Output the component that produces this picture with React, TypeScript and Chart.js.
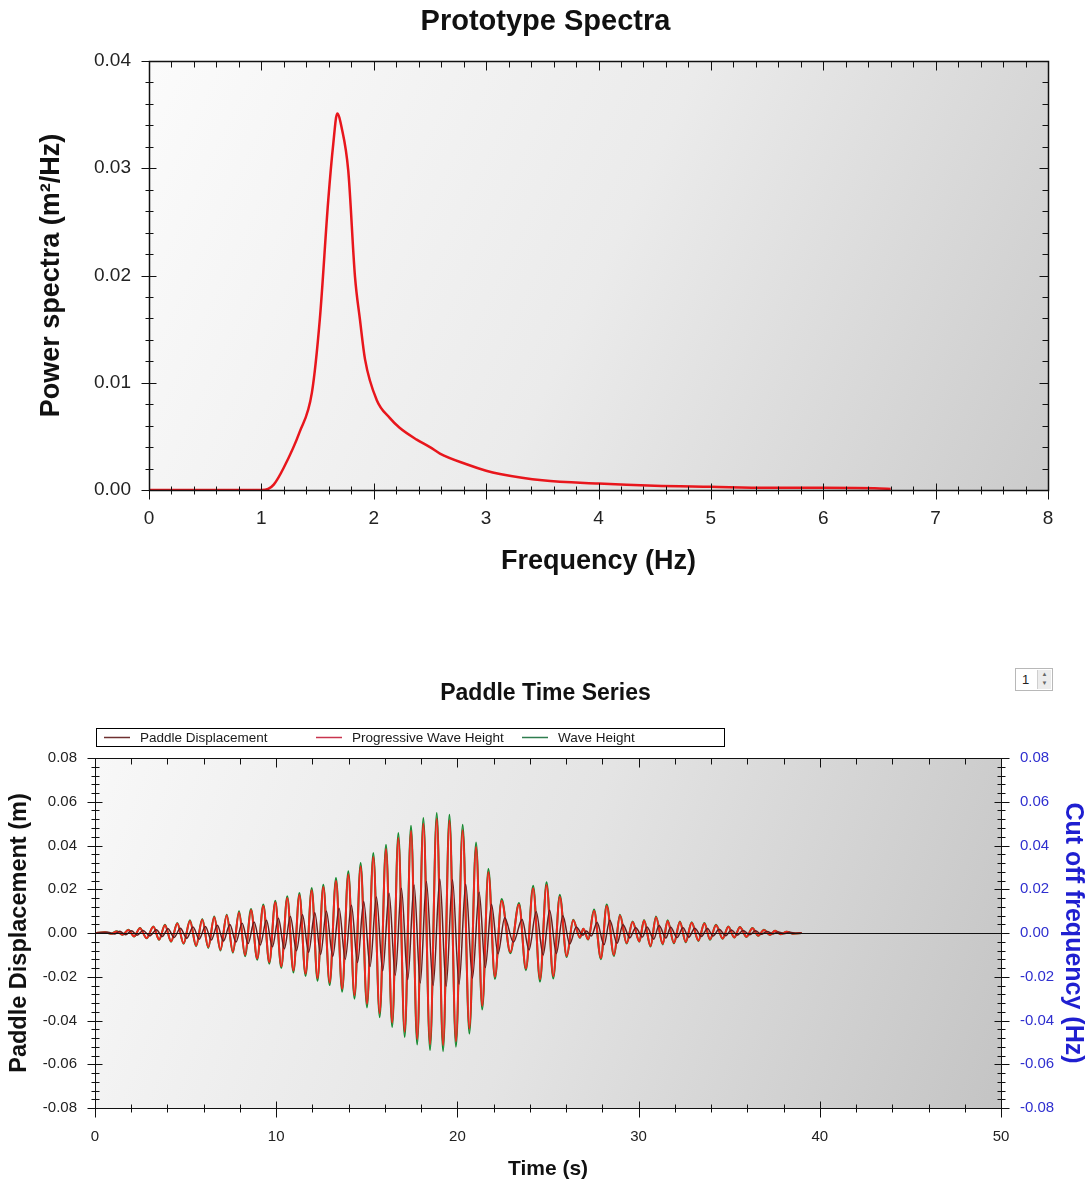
import React, { useEffect, useRef } from 'react';
import { Chart, registerables } from 'chart.js';

Chart.register(...registerables);

const FONT = '"Liberation Sans", Arial, Helvetica, sans-serif';

// ---------------- Prototype spectra ----------------
const specFreq = [0, 0.5, 1.0, 1.06, 1.11, 1.2, 1.34, 1.45, 1.52, 1.595, 1.64, 1.675, 1.714, 1.773, 1.833, 1.877, 1.922, 2.026, 2.144, 2.23, 2.382, 2.5, 2.589, 2.826, 3.0, 3.123, 3.5, 4.0, 4.5, 5.0, 5.5, 6.0, 6.5, 6.6];
const specPower = [0, 0, 0, 0.0001, 0.0005, 0.0021, 0.0054, 0.0091, 0.0159, 0.027, 0.0323, 0.0351, 0.0338, 0.0298, 0.0199, 0.0159, 0.0122, 0.0084, 0.0067, 0.0058, 0.0047, 0.0040, 0.0034, 0.0024, 0.0018, 0.0015, 0.0009, 0.0006, 0.0004, 0.0003, 0.0002, 0.0002, 0.00015, 0.0001];

// ---------------- Paddle time series ----------------
const waveTime = [
  0.00, 0.55, 0.90, 1.20, 1.52, 1.84, 2.16, 2.48, 2.85, 3.22,
  3.54, 3.86, 4.20, 4.54, 4.89, 5.24, 5.58, 5.92, 6.25, 6.58,
  6.92, 7.27, 7.61, 7.95, 8.28, 8.61, 8.95, 9.29, 9.62, 9.95,
  10.28, 10.61, 10.95, 11.28, 11.62, 11.96, 12.28, 12.60, 12.95, 13.30,
  13.64, 13.98, 14.32, 14.66, 15.01, 15.36, 15.71, 16.06, 16.40, 16.74,
  17.09, 17.44, 17.78, 18.12, 18.49, 18.86, 19.21, 19.56, 19.92, 20.29,
  20.66, 21.03, 21.37, 21.71, 22.07, 22.44, 22.92, 23.40, 23.78, 24.18,
  24.56, 24.92, 25.29, 25.65, 26.03, 26.39, 26.76, 26.95, 27.22, 27.54,
  27.92, 28.24, 28.64, 28.97, 29.34, 29.67, 30.04, 30.30, 30.66, 30.96,
  31.33, 31.60, 31.95, 32.28, 32.60, 32.93, 33.30, 33.63, 33.94, 34.27,
  34.64, 34.95, 35.28, 35.59, 35.96, 36.28, 36.60, 36.92, 37.25, 37.53,
  37.85, 38.17, 38.50, 39.00,
];
const waveHeight = [
  0, 0.0003, -0.0003, 0.0008, -0.0008, 0.0015, -0.0016, 0.0023, -0.0024, 0.0030,
  -0.0031, 0.0038, -0.0040, 0.0046, -0.0049, 0.0058, -0.0060, 0.0064, -0.0068, 0.0076,
  -0.0080, 0.0084, -0.0090, 0.0099, -0.0106, 0.0110, -0.0122, 0.0130, -0.0140, 0.0148,
  -0.0160, 0.0168, -0.0180, 0.0183, -0.0196, 0.0206, -0.0218, 0.0221, -0.0238, 0.0251,
  -0.0268, 0.0282, -0.0300, 0.0320, -0.0340, 0.0366, -0.0385, 0.0404, -0.0430, 0.0457,
  -0.0475, 0.0490, -0.0510, 0.0526, -0.0535, 0.0549, -0.0540, 0.0541, -0.0520, 0.0495,
  -0.0460, 0.0414, -0.0350, 0.0293, -0.0210, 0.0155, -0.0092, 0.0137, -0.0170, 0.0216,
  -0.0222, 0.0232, -0.0208, 0.0175, -0.0110, 0.0061, -0.0022, 0.0020, -0.0030, 0.0107,
  -0.0120, 0.0130, -0.0105, 0.0084, -0.0048, 0.0053, -0.0040, 0.0060, -0.0062, 0.0076,
  -0.0052, 0.0058, -0.0047, 0.0053, -0.0042, 0.0049, -0.0036, 0.0046, -0.0031, 0.0038,
  -0.0026, 0.0030, -0.0021, 0.0027, -0.0018, 0.0023, -0.0013, 0.0015, -0.0009, 0.0010,
  -0.0006, 0.0006, -0.0003, 0,
];
const progWaveHeight = [
  0, 0.0003, -0.0003, 0.0007, -0.0008, 0.0014, -0.0015, 0.0022, -0.0023, 0.0029,
  -0.0030, 0.0036, -0.0038, 0.0044, -0.0047, 0.0055, -0.0057, 0.0061, -0.0065, 0.0072,
  -0.0076, 0.0080, -0.0086, 0.0094, -0.0101, 0.0105, -0.0116, 0.0124, -0.0133, 0.0141,
  -0.0152, 0.0160, -0.0171, 0.0174, -0.0186, 0.0196, -0.0207, 0.0210, -0.0226, 0.0238,
  -0.0255, 0.0268, -0.0285, 0.0304, -0.0323, 0.0348, -0.0366, 0.0384, -0.0409, 0.0434,
  -0.0451, 0.0466, -0.0485, 0.0500, -0.0508, 0.0522, -0.0513, 0.0514, -0.0494, 0.0470,
  -0.0437, 0.0393, -0.0333, 0.0278, -0.0200, 0.0147, -0.0087, 0.0130, -0.0162, 0.0205,
  -0.0211, 0.0220, -0.0198, 0.0166, -0.0105, 0.0058, -0.0021, 0.0019, -0.0029, 0.0102,
  -0.0114, 0.0124, -0.0100, 0.0080, -0.0046, 0.0050, -0.0038, 0.0057, -0.0059, 0.0072,
  -0.0049, 0.0055, -0.0045, 0.0050, -0.0040, 0.0047, -0.0034, 0.0044, -0.0029, 0.0036,
  -0.0025, 0.0029, -0.0020, 0.0026, -0.0017, 0.0022, -0.0012, 0.0014, -0.0009, 0.0010,
  -0.0006, 0.0006, -0.0003, 0,
];
const paddleTime = [
  0.00, 0.72, 1.07, 1.37, 1.69, 2.01, 2.33, 2.65, 3.02, 3.39,
  3.71, 4.03, 4.37, 4.71, 5.06, 5.41, 5.75, 6.09, 6.42, 6.75,
  7.09, 7.44, 7.78, 8.12, 8.45, 8.78, 9.12, 9.46, 9.79, 10.12,
  10.45, 10.78, 11.12, 11.45, 11.79, 12.13, 12.45, 12.77, 13.12, 13.47,
  13.81, 14.15, 14.49, 14.83, 15.18, 15.53, 15.88, 16.23, 16.57, 16.91,
  17.26, 17.61, 17.95, 18.29, 18.66, 19.03, 19.38, 19.73, 20.09, 20.46,
  20.83, 21.20, 21.54, 21.88, 22.24, 22.61, 23.09, 23.57, 23.95, 24.35,
  24.73, 25.09, 25.46, 25.82, 26.20, 26.56, 26.93, 27.12, 27.39, 27.71,
  28.09, 28.41, 28.81, 29.14, 29.51, 29.84, 30.21, 30.47, 30.83, 31.13,
  31.50, 31.77, 32.12, 32.45, 32.77, 33.10, 33.47, 33.80, 34.11, 34.44,
  34.81, 35.12, 35.45, 35.76, 36.13, 36.45, 36.77, 37.09, 37.42, 37.70,
  38.02, 38.34, 38.67, 39.00,
];
const paddleDisp = [
  0, 0.0004, -0.0005, 0.0008, -0.0008, 0.0010, -0.0010, 0.0012, -0.0013, 0.0015,
  -0.0016, 0.0019, -0.0020, 0.0022, -0.0024, 0.0027, -0.0028, 0.0030, -0.0032, 0.0035,
  -0.0037, 0.0039, -0.0041, 0.0045, -0.0048, 0.0050, -0.0055, 0.0058, -0.0063, 0.0067,
  -0.0072, 0.0076, -0.0081, 0.0083, -0.0088, 0.0093, -0.0098, 0.0100, -0.0107, 0.0113,
  -0.0120, 0.0127, -0.0135, 0.0144, -0.0153, 0.0165, -0.0173, 0.0182, -0.0193, 0.0205,
  -0.0213, 0.0220, -0.0229, 0.0236, -0.0240, 0.0247, -0.0243, 0.0243, -0.0234, 0.0223,
  -0.0207, 0.0186, -0.0158, 0.0132, -0.0095, 0.0070, -0.0042, 0.0062, -0.0077, 0.0097,
  -0.0100, 0.0104, -0.0094, 0.0079, -0.0050, 0.0028, -0.0010, 0.0009, -0.0014, 0.0048,
  -0.0054, 0.0058, -0.0047, 0.0038, -0.0022, 0.0024, -0.0018, 0.0027, -0.0028, 0.0034,
  -0.0023, 0.0026, -0.0021, 0.0024, -0.0019, 0.0022, -0.0016, 0.0021, -0.0014, 0.0017,
  -0.0012, 0.0014, -0.0010, 0.0012, -0.0008, 0.0010, -0.0006, 0.0007, -0.0004, 0.0005,
  -0.0003, 0.0003, -0.0001, 0,
];

const seriesLabels = ['Paddle Displacement', 'Progressive Wave Height', 'Wave Height'];
const seriesColors = ['#6a1c1c', '#f2251d', '#12882c'];
const legendColors = ['#6e3030', '#c8344e', '#2f7d4f'];

const fmt2 = (v: any) => (Math.abs(Number(v)) < 1e-9 ? 0 : Number(v)).toFixed(2);

function seg(ctx: CanvasRenderingContext2D, x1: number, y1: number, x2: number, y2: number) {
  ctx.beginPath();
  ctx.moveTo(x1, y1);
  ctx.lineTo(x2, y2);
  ctx.stroke();
}

const framePlugin = {
  id: 'frame',
  beforeDraw(chart: any, _a: any, o: any) {
    const { ctx, chartArea: a } = chart;
    ctx.save();
    const g = ctx.createLinearGradient(a.left, a.top, a.right, a.bottom);
    o.bg.forEach((c: string, i: number) => g.addColorStop(i / (o.bg.length - 1), c));
    ctx.fillStyle = g;
    ctx.fillRect(a.left, a.top, a.right - a.left, a.bottom - a.top);
    ctx.restore();
  },
  afterDatasetsDraw(chart: any, _a: any, o: any) {
    const { ctx, chartArea: a, scales } = chart;
    const xs = scales.x;
    const ys = scales.y;
    const L = Math.round(a.left) + 0.5;
    const R = Math.round(a.right) + 0.5;
    const T = Math.round(a.top) + 0.5;
    const B = Math.round(a.bottom) + 0.5;
    ctx.save();
    ctx.strokeStyle = '#111';
    if (o.zeroLine) {
      ctx.lineWidth = 1;
      const y0 = Math.round(ys.getPixelForValue(0)) + 0.5;
      seg(ctx, L, y0, R, y0);
    }
    ctx.lineWidth = o.frameWidth;
    ctx.strokeRect(L, T, R - L, B - T);
    ctx.lineWidth = 1;
    const nx = Math.round((xs.max - xs.min) / o.xMinor);
    for (let i = 0; i <= nx; i++) {
      const v = xs.min + i * o.xMinor;
      const q = v / o.xMajor;
      const major = Math.abs(q - Math.round(q)) < 1e-6;
      const px = Math.round(xs.getPixelForValue(v)) + 0.5;
      seg(ctx, px, B - (major ? 7 : 4), px, B + (major ? 9 : 4));
      seg(ctx, px, T, px, T + (major ? 9 : 6));
    }
    const ny = Math.round((ys.max - ys.min) / o.yMinor);
    for (let i = 0; i <= ny; i++) {
      const v = ys.min + i * o.yMinor;
      const q = v / o.yMajor;
      const major = Math.abs(q - Math.round(q)) < 1e-6;
      const py = Math.round(ys.getPixelForValue(v)) + 0.5;
      seg(ctx, L - (major ? 8 : 4), py, L + (major ? 7 : 4), py);
      if (o.rightAxis) {
        seg(ctx, R - (major ? 7 : 4), py, R + (major ? 8 : 4), py);
      } else {
        seg(ctx, R - (major ? 9 : 6), py, R, py);
      }
    }
    ctx.restore();
  },
};

const boxLegendPlugin = {
  id: 'boxLegend',
  afterDraw(chart: any, _a: any, o: any) {
    if (!o || !o.show) return;
    const ctx = chart.ctx as CanvasRenderingContext2D;
    ctx.save();
    ctx.fillStyle = '#ffffff';
    ctx.fillRect(o.left, o.top, o.right - o.left, o.bottom - o.top);
    ctx.strokeStyle = '#000';
    ctx.lineWidth = 1;
    ctx.strokeRect(o.left + 0.5, o.top + 0.5, o.right - o.left, o.bottom - o.top);
    const cy = Math.round((o.top + o.bottom) / 2) + 0.5;
    ctx.font = `${o.fontSize}px ${FONT}`;
    ctx.textBaseline = 'middle';
    ctx.textAlign = 'left';
    chart.data.datasets.forEach((ds: any, i: number) => {
      const x = o.itemX[i];
      ctx.strokeStyle = legendColors[i];
      ctx.lineWidth = 1.5;
      seg(ctx, x, cy, x + o.sample, cy);
      ctx.fillStyle = '#1a1a1a';
      ctx.fillText(ds.label, x + o.sample + o.gap, cy + 1);
    });
    ctx.restore();
  },
};

export default function App() {
  const topRef = useRef<HTMLCanvasElement | null>(null);
  const botRef = useRef<HTMLCanvasElement | null>(null);

  useEffect(() => {
    Chart.defaults.font.family = FONT;
    const top = new Chart(topRef.current as HTMLCanvasElement, {
      type: 'line',
      data: {
        datasets: [
          {
            label: 'Power spectra',
            data: specFreq.map((f, i) => ({ x: f, y: specPower[i] })),
            borderColor: '#e8161c',
            borderWidth: 2.5,
            pointRadius: 0,
            cubicInterpolationMode: 'monotone',
            fill: false,
          },
        ],
      },
      options: {
        responsive: false,
        animation: false,
        devicePixelRatio: 1,
        layout: { padding: 0 },
        events: [],
        plugins: {
          legend: { display: false },
          tooltip: { enabled: false },
          title: {
            display: true,
            text: 'Prototype Spectra',
            color: '#111',
            font: { size: 29, weight: 'bold', family: FONT },
            padding: { top: 4.6, bottom: 21.6 },
          },
          frame: { bg: ['#fbfbfb', '#ebebeb', '#cbcbcb'], frameWidth: 1.5, xMinor: 0.2, xMajor: 1, yMinor: 0.002, yMajor: 0.01, rightAxis: false, zeroLine: false },
        } as any,
        scales: {
          x: {
            type: 'linear',
            min: 0,
            max: 8,
            grid: { display: false, drawTicks: false },
            border: { display: false },
            ticks: { stepSize: 1, color: '#222', font: { size: 19 }, padding: 17.6 },
            title: { display: true, text: 'Frequency (Hz)', color: '#111', font: { size: 27, weight: 'bold' }, padding: { top: 0, bottom: 31.8 } },
            afterFit: (s: any) => { s.height = 120; },
          },
          y: {
            type: 'linear',
            min: 0,
            max: 0.04,
            grid: { display: false, drawTicks: false },
            border: { display: false },
            ticks: { stepSize: 0.01, color: '#222', font: { size: 19 }, padding: 18, callback: fmt2 },
            title: { display: true, text: 'Power spectra (m²/Hz)', color: '#111', font: { size: 27, weight: 'bold' }, padding: { top: 35.8, bottom: 0 } },
            afterFit: (s: any) => { s.width = 149; },
          },
          yr: {
            type: 'linear',
            position: 'right',
            min: 0,
            max: 0.04,
            grid: { display: false, drawTicks: false },
            border: { display: false },
            ticks: { display: false },
            afterFit: (s: any) => { s.width = 43; },
          },
        },
      } as any,
      plugins: [framePlugin],
    });

    const bot = new Chart(botRef.current as HTMLCanvasElement, {
      type: 'line',
      data: {
        datasets: [
          {
            label: seriesLabels[0],
            data: paddleTime.map((t, i) => ({ x: t, y: paddleDisp[i] })),
            borderColor: seriesColors[0],
            borderWidth: 1.5,
            pointRadius: 0,
            cubicInterpolationMode: 'monotone',
            fill: false,
          },
          {
            label: seriesLabels[1],
            data: waveTime.map((t, i) => ({ x: t, y: progWaveHeight[i] })),
            borderColor: seriesColors[1],
            borderWidth: 2,
            pointRadius: 0,
            cubicInterpolationMode: 'monotone',
            fill: false,
          },
          {
            label: seriesLabels[2],
            data: waveTime.map((t, i) => ({ x: t, y: waveHeight[i] })),
            borderColor: seriesColors[2],
            borderWidth: 2,
            pointRadius: 0,
            cubicInterpolationMode: 'monotone',
            fill: false,
          },
        ],
      },
      options: {
        responsive: false,
        animation: false,
        devicePixelRatio: 1,
        events: [],
        layout: { padding: 0 },
        plugins: {
          legend: { display: false },
          tooltip: { enabled: false },
          title: {
            display: true,
            text: 'Paddle Time Series',
            color: '#111',
            font: { size: 23, weight: 'bold', family: FONT },
            padding: { top: 70, bottom: 50.4 },
          },
          frame: { bg: ['#f8f8f8', '#e4e4e4', '#c4c4c4'], frameWidth: 1, xMinor: 2, xMajor: 10, yMinor: 0.004, yMajor: 0.02, rightAxis: true, zeroLine: true },
          boxLegend: { show: true, left: 96, right: 724, top: 118, bottom: 136, fontSize: 13.5, sample: 26, gap: 10, itemX: [104, 316, 522] },
        } as any,
        scales: {
          x: {
            type: 'linear',
            min: 0,
            max: 50,
            grid: { display: false, drawTicks: false },
            border: { display: false },
            ticks: { stepSize: 10, color: '#222', font: { size: 15 }, padding: 20 },
            title: { display: true, text: 'Time (s)', color: '#111', font: { size: 21, weight: 'bold' }, padding: { top: 0, bottom: 6.4 } },
            afterFit: (s: any) => { s.height = 80; },
          },
          y: {
            type: 'linear',
            position: 'left',
            min: -0.08,
            max: 0.08,
            grid: { display: false, drawTicks: false },
            border: { display: false },
            ticks: { stepSize: 0.02, color: '#222', font: { size: 15 }, padding: 18, callback: fmt2 },
            title: { display: true, text: 'Paddle Displacement (m)', color: '#111', font: { size: 23.5, weight: 'bold' }, padding: { top: 5.9, bottom: 0 } },
            afterFit: (s: any) => { s.width = 95; },
          },
          y1: {
            type: 'linear',
            position: 'right',
            min: -0.08,
            max: 0.08,
            grid: { display: false, drawTicks: false },
            border: { display: false },
            ticks: { stepSize: 0.02, color: '#2f2fcf', font: { size: 15 }, padding: 19, callback: fmt2 },
            title: { display: true, text: 'Cut off frequency (Hz)', color: '#1f1fd0', font: { size: 25, weight: 'bold' }, padding: { top: 3, bottom: 0 } },
            afterFit: (s: any) => { s.width = 90; },
          },
        },
      } as any,
      plugins: [framePlugin, boxLegendPlugin],
    });

    return () => {
      top.destroy();
      bot.destroy();
    };
  }, []);

  return (
    <div style={{ position: 'absolute', left: 0, top: 0, width: 1091, height: 1188, background: '#fff', overflow: 'hidden' }}>
      <canvas ref={topRef} width={1091} height={610} style={{ position: 'absolute', left: 0, top: 0 }} />
      <canvas ref={botRef} width={1091} height={578} style={{ position: 'absolute', left: 0, top: 610 }} />
      <div
        style={{
          position: 'absolute', left: 1015, top: 668, width: 36, height: 21,
          border: '1px solid #b8b8b8', background: '#fff', fontFamily: FONT, fontSize: 13, color: '#222',
        }}
      >
        <span style={{ position: 'absolute', left: 6, top: 3 }}>1</span>
        <div
          style={{
            position: 'absolute', right: 1, top: 1, width: 13, height: 19, background: '#ececec',
            borderLeft: '1px solid #cfcfcf', fontSize: 6, lineHeight: '9px', textAlign: 'center', color: '#666',
          }}
        >
          <div>▲</div>
          <div>▼</div>
        </div>
      </div>
    </div>
  );
}
